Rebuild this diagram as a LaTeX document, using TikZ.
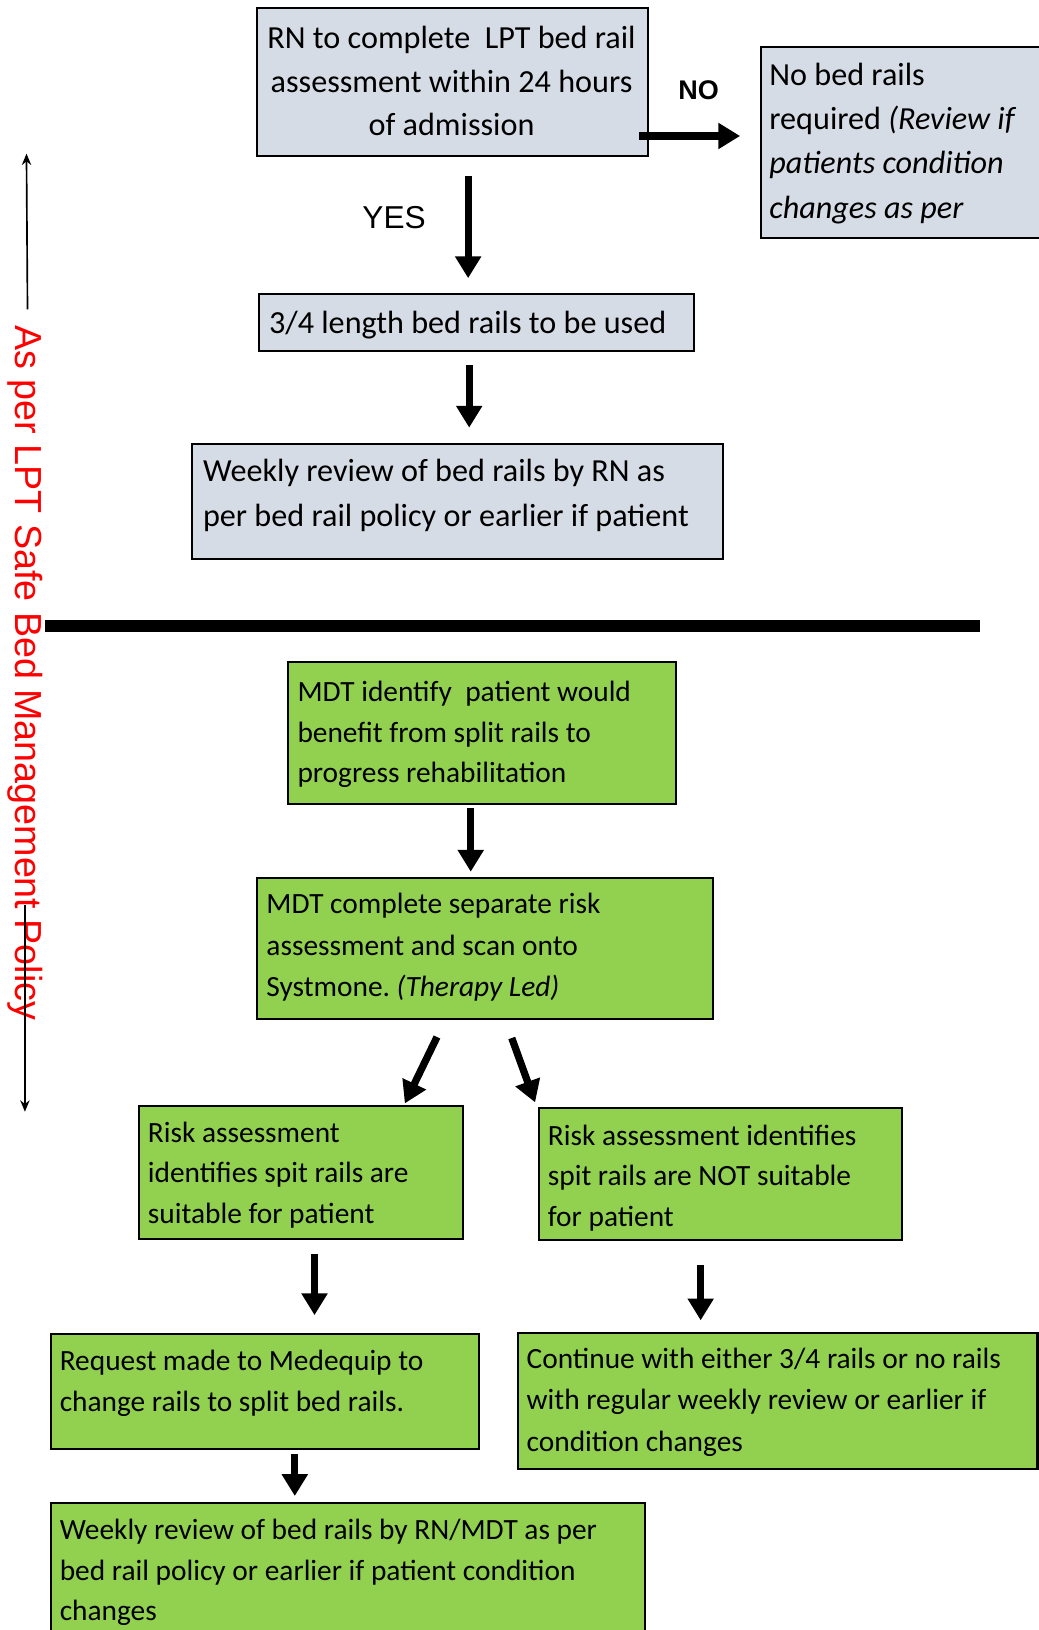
\documentclass[tikz,border=0pt]{standalone}
\usepackage{fontspec}
\setmainfont{Carlito}
\newfontfamily\arialfont{Liberation Sans}
\usetikzlibrary{arrows.meta}
\definecolor{boxgrey}{HTML}{D6DCE5}
\definecolor{boxgreen}{HTML}{92D050}
\frenchspacing
\tikzset{
  greybox/.style={draw=black, line width=2pt, fill=boxgrey, inner sep=0pt, anchor=north west},
  greenbox/.style={draw=black, line width=2pt, fill=boxgreen, inner sep=0pt, anchor=north west},
  txt/.style={inner sep=0pt, anchor=north west, align=left, font=\fontsize{31}{#1}\selectfont},
  txt/.default=40,
  gtxt/.style={inner sep=0pt, anchor=north west, align=left, font=\fontsize{28.3}{#1}\selectfont},
  gtxt/.default=40,
  arr/.style={line width=7pt, -{Triangle[length=21pt,width=24pt]}},
  thinarr/.style={line width=1.6pt, -{Stealth[length=11pt,width=9pt]}},
}
\newcommand{\topstrut}{\rule{0pt}{25pt}}
\begin{document}
\begin{tikzpicture}[x=1pt,y=-1pt]
\useasboundingbox (0,0) rectangle (1000,1570.3);
% boxes
\node[greybox, minimum width=376.7pt, minimum height=142.3pt] (b1) at (246.6,7) {};
\node[greybox, minimum width=280pt, minimum height=184pt] (b2) at (731.8,44) {};
\node[greybox, minimum width=419.2pt, minimum height=55pt] (b3) at (248.8,282.5) {};
\node[greybox, minimum width=511pt, minimum height=111.4pt] (b4) at (184.4,426.5) {};
\node[greenbox, minimum width=374.1pt, minimum height=137.4pt] (b5) at (276.2,636.5) {};
\node[greenbox, minimum width=439pt, minimum height=136.4pt] (b6) at (246.9,844.6) {};
\node[greenbox, minimum width=312pt, minimum height=128.5pt] (b7) at (132.7,1064.5) {};
\node[greenbox, minimum width=349.7pt, minimum height=127.2pt] (b8) at (518,1066.8) {};
\node[greenbox, minimum width=412.7pt, minimum height=110.8pt] (b9) at (47.9,1284.5) {};
\node[greenbox, minimum width=500.8pt, minimum height=131.1pt] (b10) at (497.7,1283.5) {};
\node[greenbox, minimum width=572.1pt, minimum height=140pt] (b11) at (47.9,1446.7) {};
% texts
\node[txt=42, anchor=north, align=center] (t1) at (435,21.6)
  {\topstrut RN to complete\ \ LPT bed rail\\assessment within 24 hours\\of admission};
\node[txt=42.7] (t2) at (741,57)
  {\topstrut No bed rails\\required \textit{(Review if}\\\textit{patients condition}\\\textit{changes as per}};
\node[txt] (t3) at (259,296) {\topstrut 3/4 length bed rails to be used};
\node[txt=42.8] (t4) at (195.4,439)
  {\topstrut Weekly review of bed rails by RN as\\per bed rail policy or earlier if patient};
\node[gtxt=39] (t5) at (286.4,651)
  {\topstrut MDT identify\ \ patient would\\benefit from split rails to\\progress rehabilitation};
\node[gtxt=40] (t6) at (256.5,855)
  {\topstrut MDT complete separate risk\\assessment and scan onto\\Systmone. \textit{(Therapy Led)}};
\node[gtxt=39.3] (t7) at (142.3,1075)
  {\topstrut Risk assessment\\identifies spit rails are\\suitable for patient};
\node[gtxt=39] (t8) at (527.6,1078)
  {\topstrut Risk assessment identifies\\spit rails are NOT suitable\\for patient};
\node[gtxt=40] (t9) at (57.4,1295)
  {\topstrut Request made to Medequip to\\change rails to split bed rails.};
\node[gtxt=40] (t10) at (507.2,1293)
  {\topstrut Continue with either 3/4 rails or no rails\\with regular weekly review or earlier if\\condition changes};
\node[gtxt=39] (t11) at (57.4,1458)
  {\topstrut Weekly review of bed rails by RN/MDT as per\\bed rail policy or earlier if patient condition\\changes};
% labels
\node[inner sep=0pt, anchor=base, font=\arialfont\fontsize{30.5}{36}\selectfont] (yes) at (379.7,220) {YES};
\node[inner sep=0pt, anchor=base, font=\arialfont\bfseries\fontsize{26}{30}\selectfont] (no) at (673,96.3) {NO};
\node[inner sep=0pt, anchor=base west, rotate=-90, text=red, font=\arialfont\fontsize{36.3}{40}\selectfont] (policy) at (14.5,313) {As per LPT Safe Bed Management Policy};
% arrow end points
\coordinate (a1s) at (616,131);   \coordinate (a1e) at (713,131);
\coordinate (a2s) at (451,169.6); \coordinate (a2e) at (451,268);
\coordinate (a3s) at (452,351.6); \coordinate (a3e) at (452,412);
\coordinate (a4s) at (453.5,778.7); \coordinate (a4e) at (453.5,839.8);
\coordinate (a5s) at (421,999);   \coordinate (a5e) at (390,1063);
\coordinate (a6s) at (493,1000);  \coordinate (a6e) at (515.5,1062);
\coordinate (a7s) at (303,1208);  \coordinate (a7e) at (303,1267);
\coordinate (a8s) at (675,1218.7); \coordinate (a8e) at (675,1272);
\coordinate (a9s) at (284,1400.8); \coordinate (a9e) at (284,1441.2);
\coordinate (upS) at (26.5,298);  \coordinate (upE) at (25.5,148);
\coordinate (dnS) at (24,872);    \coordinate (dnE) at (24,1071);
\coordinate (divL) at (43.4,603); \coordinate (divR) at (944,603);
% arrows
\draw[arr] (a1s) -- (a1e);
\draw[arr] (a2s) -- (a2e);
\draw[arr] (a3s) -- (a3e);
\draw[arr] (a4s) -- (a4e);
\draw[arr] (a5s) -- (a5e);
\draw[arr] (a6s) -- (a6e);
\draw[arr] (a7s) -- (a7e);
\draw[arr] (a8s) -- (a8e);
\draw[arr] (a9s) -- (a9e);
\draw[thinarr] (upS) -- (upE);
\draw[thinarr] (dnS) -- (dnE);
\draw[line width=11.5pt] (divL) -- (divR);
\end{tikzpicture}
\end{document}
